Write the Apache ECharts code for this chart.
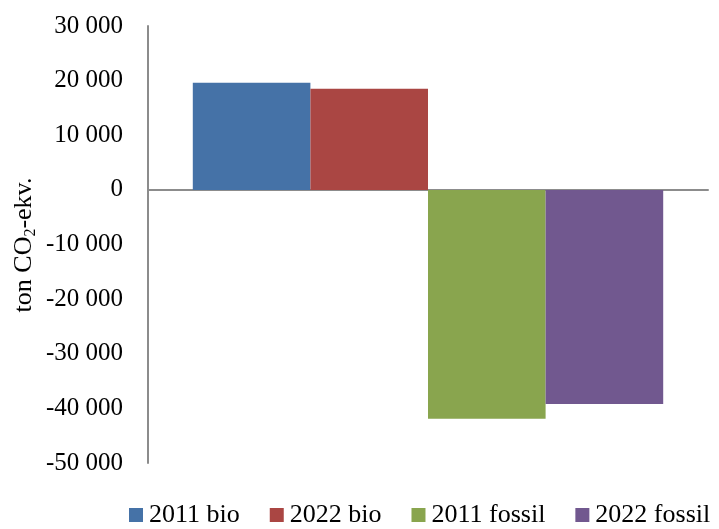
<!DOCTYPE html>
<html>
<head>
<meta charset="utf-8">
<script src="https://cdn.jsdelivr.net/npm/echarts@6/dist/echarts.min.js"></script>
<style>
  html, body { margin: 0; padding: 0; background: #fff; }
  #chart { width: 719px; height: 529px; }
</style>
</head>
<body>
<div id="chart"></div>
<script>
// Emission balance, ton CO2-equivalents
const seriesNames = ['2011 bio', '2022 bio', '2011 fossil', '2022 fossil'];
const seriesValues = [19600, 18500, -41900, -39200];
const seriesColors = ['#4572A7', '#AA4643', '#89A54E', '#71588F'];
const categories = [''];

const font = '"Liberation Serif", "Times New Roman", serif';

// thousands separated with a space, e.g. -10 000
function fmt(v) {
  const s = String(Math.abs(v)).replace(/\B(?=(\d{3})+(?!\d))/g, ' ');
  return (v < 0 ? '-' : '') + s;
}

const chart = echarts.init(document.getElementById('chart'), null, { renderer: 'canvas' });

chart.setOption({
  animation: false,
  backgroundColor: '#ffffff',
  grid: { left: 148, right: 11, top: 26, bottom: 66, containLabel: false },
  legend: {
    top: 502,
    left: 129,
    padding: 0,
    icon: 'rect',
    itemWidth: 14,
    itemHeight: 14,
    itemGap: 30,
    textStyle: { fontFamily: font, fontSize: 26, color: '#000', padding: [0, 0, 0, 1] },
    data: seriesNames
  },
  xAxis: {
    type: 'category',
    data: categories,
    axisLine: { onZero: true, lineStyle: { color: '#8c8c8c', width: 2 } },
    axisTick: { show: false },
    axisLabel: { show: false },
    splitLine: { show: false }
  },
  yAxis: {
    type: 'value',
    min: -50000,
    max: 30000,
    interval: 10000,
    axisLine: { show: true, lineStyle: { color: '#8c8c8c', width: 2 } },
    axisTick: { show: false },
    splitLine: { show: false },
    axisLabel: {
      margin: 25,
      fontFamily: font,
      fontSize: 25,
      color: '#000',
      formatter: fmt
    }
  },
  graphic: [{
    type: 'text',
    x: 24,
    y: 245,
    rotation: Math.PI / 2,
    style: {
      text: '{a|ton CO}{s|2}{a|-ekv.}',
      align: 'center',
      verticalAlign: 'middle',
      fill: '#000',
      rich: {
        a: { fontFamily: font, fontSize: 26, lineHeight: 30, fill: '#000' },
        s: { fontFamily: font, fontSize: 16, lineHeight: 30, verticalAlign: 'bottom', padding: [9, 0, 0, 0], fill: '#000' }
      }
    }
  }],
  series: seriesNames.map((name, i) => ({
    name: name,
    type: 'bar',
    data: [seriesValues[i]],
    barGap: '0%',
    barCategoryGap: '16%',
    itemStyle: { color: seriesColors[i] }
  }))
});
</script>
</body>
</html>
